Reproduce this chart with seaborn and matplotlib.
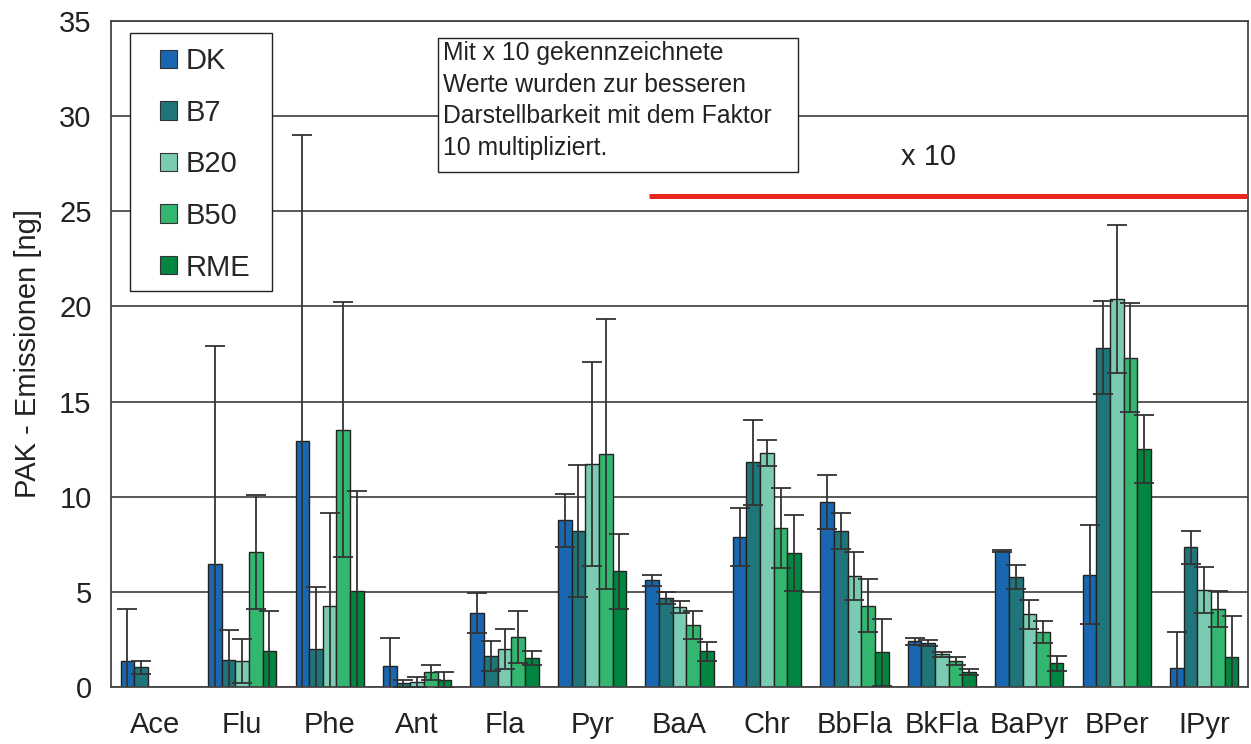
import numpy as np
import pandas as pd
import matplotlib
matplotlib.use("Agg")
import matplotlib.pyplot as plt
from matplotlib.patches import Patch, Rectangle
import seaborn as sns

categories = ["Ace", "Flu", "Phe", "Ant", "Fla", "Pyr", "BaA", "Chr",
              "BbFla", "BkFla", "BaPyr", "BPer", "IPyr"]
series = ["DK", "B7", "B20", "B50", "RME"]

dk_vals  = [1.38, 6.45, 12.95, 1.12, 3.88, 8.77, 5.60, 7.88, 9.72, 2.40, 7.16, 5.89, 0.98]
b7_vals  = [1.04, 1.40, 1.98, 0.19, 1.62, 8.19, 4.67, 11.82, 8.19, 2.30, 5.77, 17.83, 7.35]
b20_vals = [0.00, 1.35, 4.25, 0.25, 1.98, 11.72, 4.19, 12.30, 5.82, 1.72, 3.82, 20.40, 5.09]
b50_vals = [0.00, 7.09, 13.51, 0.77, 2.61, 12.25, 3.25, 8.35, 4.28, 1.35, 2.88, 17.30, 4.09]
rme_vals = [0.00, 1.88, 5.03, 0.35, 1.53, 6.07, 1.88, 7.04, 1.82, 0.77, 1.25, 12.51, 1.56]

dk_err  = [2.72, 11.45, 16.05, 1.44, 1.05, 1.39, 0.28, 1.53, 1.42, 0.17, 0.04, 2.60, 1.90]
b7_err  = [0.35, 1.58, 3.30, 0.20, 0.80, 3.46, 0.30, 2.23, 0.95, 0.16, 0.63, 2.45, 0.86]
b20_err = [0.00, 1.15, 4.92, 0.26, 1.05, 5.38, 0.32, 0.67, 1.25, 0.14, 0.75, 3.90, 1.21]
b50_err = [0.00, 3.00, 6.70, 0.40, 1.37, 7.08, 0.72, 2.10, 1.38, 0.21, 0.58, 2.87, 0.95]
rme_err = [0.00, 2.10, 5.27, 0.42, 0.35, 1.97, 0.51, 2.00, 1.76, 0.15, 0.40, 1.78, 2.16]

colors = ["#1966b1", "#1f7579", "#7acbb2", "#33b670", "#008641"]

y_ticks = [0, 5, 10, 15, 20, 25, 30, 35]
marker_line_y = 25.8
note_text = ("Mit x 10 gekennzeichnete\nWerte wurden zur besseren\n"
             "Darstellbarkeit mit dem Faktor\n10 multipliziert.")
factor_label = "x 10"
y_label = "PAK - Emissionen [ng]"

values = [dk_vals, b7_vals, b20_vals, b50_vals, rme_vals]
errors = [dk_err, b7_err, b20_err, b50_err, rme_err]

rows = []
for s, vals in zip(series, values):
    for c, v in zip(categories, vals):
        rows.append({"cat": c, "series": s, "val": v})
df = pd.DataFrame(rows)

sns.set_theme(style="white")
plt.rcParams["font.family"] = ["Liberation Sans", "DejaVu Sans"]

W, H = 1251, 744
fig = plt.figure(figsize=(W / 100, H / 100), dpi=100)
ax = fig.add_axes([111 / W, 1 - 687 / H, (1248 - 111) / W, (687 - 21) / H])

def ax_frac(px, py):
    return (px - 111) / 1137, (687 - py) / 666

sns.barplot(data=df, x="cat", y="val", hue="series", order=categories,
            hue_order=series, palette=colors, errorbar=None, width=0.78,
            saturation=1, edgecolor="#222222", linewidth=1.0, legend=False,
            ax=ax, zorder=2)

for cont, errs in zip(ax.containers, errors):
    for p, e in zip(cont.patches, errs):
        if e <= 0:
            continue
        xc = p.get_x() + p.get_width() / 2
        ax.errorbar(xc, p.get_height(), yerr=e, fmt="none", ecolor="#333333",
                    elinewidth=1.3, capsize=7, capthick=1.3, zorder=3)

ax.set_ylim(0, 35)
ax.set_xlim(-0.5, len(categories) - 0.5)
ax.set_yticks(y_ticks)
ax.set_yticklabels([str(t) for t in y_ticks], fontsize=21, color="#222222")
ax.yaxis.grid(True, color="#3c3c3c", linewidth=1.2, zorder=0)
ax.set_axisbelow(True)

ax.set_xticks(range(len(categories)))
ax.set_xticklabels(categories, fontsize=21, color="#222222")
ax.set_xticks(np.arange(len(categories) + 1) - 0.5, minor=True)
ax.tick_params(axis="x", which="major", length=0, pad=17)
ax.tick_params(axis="x", which="minor", length=8, width=1.2, color="#555555", direction="out")
ax.tick_params(axis="y", which="major", length=8, width=1.2, color="#555555", direction="out", pad=6)
ax.set_xlabel("")
ax.set_ylabel(y_label, fontsize=21, color="#222222", labelpad=12)

for side in ["left", "bottom", "right", "top"]:
    ax.spines[side].set_visible(True)
    ax.spines[side].set_color("#444444")
    ax.spines[side].set_linewidth(1.3)

# legend frame and entries
lx0, ly0 = ax_frac(130, 291)
lx1, ly1 = ax_frac(272, 33)
ax.add_patch(Rectangle((lx0, ly0), lx1 - lx0, ly1 - ly0, transform=ax.transAxes,
                       facecolor="white", edgecolor="#222222", linewidth=1.0,
                       zorder=4))
handles = [Patch(facecolor=c, edgecolor="#333333", linewidth=0.8) for c in colors]
leg = ax.legend(handles, series, loc="upper left",
                bbox_to_anchor=ax_frac(160, 47),
                fontsize=21, frameon=False,
                handlelength=0.59, handleheight=0.59, handletextpad=0.3,
                labelspacing=0.81, borderpad=0, borderaxespad=0)
leg.set_zorder(5)

bx0, by0 = ax_frac(438, 172)
bx1, by1 = ax_frac(798, 38)
ax.add_patch(Rectangle((bx0, by0), bx1 - bx0, by1 - by0,
                       transform=ax.transAxes, facecolor="white",
                       edgecolor="#222222", linewidth=1.0, zorder=4))
ax.text(*ax_frac(443, 41), note_text, transform=ax.transAxes,
        ha="left", va="top", fontsize=17.8, linespacing=1.4, color="#222222",
        zorder=5)

ax.hlines(marker_line_y, 5.65, len(categories) - 0.5, colors="#e8251f",
          linewidth=3.6, zorder=4)
ax.text(8.85, 27.85, factor_label, ha="center", va="center", fontsize=21,
        color="#222222", zorder=5)

fig.savefig("out.png", dpi=100)
